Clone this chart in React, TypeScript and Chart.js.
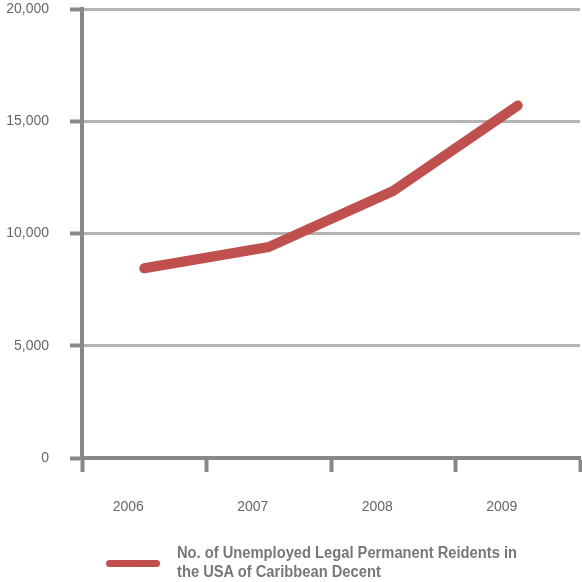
import React, { useEffect, useLayoutEffect, useRef } from "react";
import { Chart, registerables } from "chart.js";

Chart.register(...registerables);

const years = ["2006", "2007", "2008", "2009"];
const unemployed = [8450, 9400, 11900, 15700];
const yTicks = [0, 5000, 10000, 15000, 20000];
const seriesLabel = [
  "No. of Unemployed Legal Permanent Reidents in",
  "the USA of Caribbean Decent",
];

const RED = "#c0504d";
const AXIS = "#888888";
const GRID = "#b4b4b4";
const LEGEND_TEXT_WIDTH = 340;

export default function App() {
  const canvasRef = useRef<HTMLCanvasElement | null>(null);
  const legendRef = useRef<HTMLDivElement | null>(null);
  const firstLineRef = useRef<HTMLSpanElement | null>(null);

  // Condense the legend caption horizontally to a narrow face width.
  useLayoutEffect(() => {
    const el = legendRef.current;
    const span = firstLineRef.current;
    if (!el || !span) return;
    const w = span.getBoundingClientRect().width;
    if (w > 0) el.style.transform = `scaleX(${LEGEND_TEXT_WIDTH / w})`;
  }, []);

  useEffect(() => {
    const ctx = canvasRef.current;
    if (!ctx) return;
    const chart = new Chart(ctx, {
      type: "line",
      data: {
        labels: years,
        datasets: [
          {
            label: seriesLabel.join(" "),
            data: unemployed,
            borderColor: RED,
            backgroundColor: RED,
            borderWidth: 10,
            borderCapStyle: "round",
            borderJoinStyle: "round",
            pointRadius: 0,
            tension: 0,
          },
        ],
      },
      options: {
        animation: false,
        responsive: false,
        layout: { padding: { top: 9, right: 2, left: 0, bottom: 0 } },
        plugins: { legend: { display: false }, tooltip: { enabled: false } },
        scales: {
          x: {
            type: "category",
            offset: true,
            grid: {
              display: true,
              offset: true,
              drawOnChartArea: false,
              drawTicks: true,
              tickLength: 14,
              tickWidth: 4,
              tickColor: AXIS,
            },
            border: { display: true, color: AXIS, width: 4 },
            ticks: {
              color: "#666",
              font: { family: "'Liberation Sans', Arial, sans-serif", size: 14 },
              padding: 27,
              labelOffset: -16,
              maxRotation: 0,
            },
            afterFit: (scale: any) => {
              scale.height = 124;
              scale.paddingLeft = 0;
              scale.paddingRight = 0;
            },
          },
          y: {
            min: 0,
            max: 20000,
            afterBuildTicks: (scale: any) => {
              scale.ticks = yTicks.map((v) => ({ value: v }));
            },
            grid: {
              color: GRID,
              lineWidth: 3,
              drawTicks: true,
              tickLength: 12,
              tickWidth: 4,
              tickColor: AXIS,
            },
            border: { display: true, color: AXIS, width: 4 },
            ticks: {
              color: "#666",
              font: { family: "'Liberation Sans', Arial, sans-serif", size: 14 },
              padding: 21,
              callback: (v: any) => Number(v).toLocaleString("en-US"),
            },
            afterFit: (scale: any) => {
              scale.width = 82;
              scale.paddingTop = 0;
              scale.paddingBottom = 0;
            },
          },
        },
      },
    });
    return () => chart.destroy();
  }, []);

  return (
    <div style={{ position: "absolute", left: 0, top: 0, width: 582, height: 582, background: "#fff", overflow: "hidden" }}>
      <canvas ref={canvasRef} width={582} height={582} style={{ position: "absolute", left: 0, top: 0 }} />
      <div
        style={{
          position: "absolute",
          left: 106,
          top: 560,
          width: 54,
          height: 7,
          borderRadius: 4,
          background: RED,
        }}
      />
      <div
        ref={legendRef}
        style={{
          position: "absolute",
          left: 177,
          top: 543,
          width: 600,
          fontFamily: "'Liberation Sans', Arial, sans-serif",
          fontWeight: "bold",
          fontSize: 16,
          lineHeight: "19px",
          color: "#777",
          whiteSpace: "nowrap",
          transformOrigin: "0 0",
        }}
      >
        <div>
          <span ref={firstLineRef}>{seriesLabel[0]}</span>
        </div>
        <div>
          <span>{seriesLabel[1]}</span>
        </div>
      </div>
    </div>
  );
}
